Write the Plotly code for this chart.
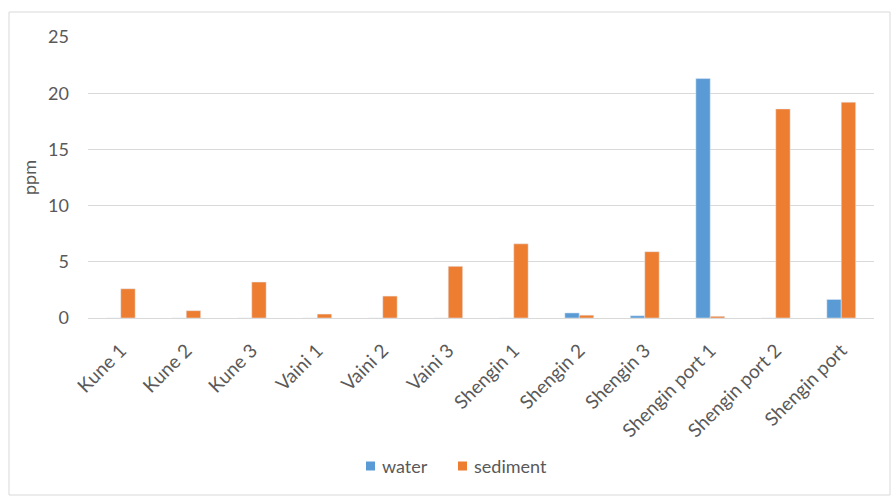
import plotly.graph_objects as go

# Sampling sites and measured concentrations (ppm)
sites = ["Kune 1", "Kune 2", "Kune 3", "Vaini 1", "Vaini 2", "Vaini 3",
         "Shengin 1", "Shengin 2", "Shengin 3", "Shengin port 1",
         "Shengin port 2", "Shengin port"]
water = [0, 0, 0, 0, 0, 0, 0, 0.45, 0.2, 21.3, 0, 1.65]
sediment = [2.6, 0.65, 3.2, 0.35, 1.95, 4.6, 6.6, 0.25, 5.9, 0.15, 18.6, 19.2]
y_ticks = [0, 5, 10, 15, 20, 25]

series = [("water", water, "#5B9BD5"), ("sediment", sediment, "#ED7D31")]

W, H = 894, 502
L, R, T, B = 88, 20, 37, 184
pw, ph = W - L - R, H - T - B

def px_x(p):
    return (p - L) / pw

def px_y(p):
    return (H - B - p) / ph

grey = "#595959"
family = "Lato, Open Sans, sans-serif"
font = dict(family=family, size=16, color=grey)

fig = go.Figure()
for name, vals, col in series:
    fig.add_trace(go.Bar(x=sites, y=vals, name=name, marker_color=col,
                         showlegend=False))

# Compact legend row beneath the axis labels
shapes = [dict(type="rect", xref="paper", yref="paper",
               x0=px_x(9), x1=px_x(890), y0=px_y(495), y1=px_y(12),
               line=dict(color="#D9D9D9", width=1), layer="below")]
annotations = []
legend_x = [366, 458]
legend_y = 466
for (name, vals, col), lx in zip(series, legend_x):
    shapes.append(dict(type="rect", xref="paper", yref="paper",
                       x0=px_x(lx), x1=px_x(lx + 9),
                       y0=px_y(legend_y + 4.5), y1=px_y(legend_y - 4.5),
                       fillcolor=col, line=dict(width=0)))
    annotations.append(dict(text=name, xref="paper", yref="paper",
                            x=px_x(lx + 14), y=px_y(legend_y),
                            xanchor="left", yanchor="middle", showarrow=False,
                            font=dict(family=family, size=18, color=grey)))

fig.update_layout(
    width=W, height=H,
    margin=dict(l=L, r=R, t=T, b=B),
    paper_bgcolor="white", plot_bgcolor="white",
    font=font,
    barmode="group", bargap=0.56, bargroupgap=0.0,
    shapes=shapes, annotations=annotations,
)
fig.update_xaxes(showgrid=False, showline=True, linecolor="#D9D9D9",
                 tickangle=-45, ticks="", ticklabelstandoff=13,
                 tickfont=dict(family=family, size=19, color=grey))
fig.update_yaxes(range=[0, 25], tickvals=y_ticks, showgrid=True,
                 gridcolor="#D9D9D9", zeroline=False, showline=False,
                 ticks="", ticklabelstandoff=18,
                 tickfont=dict(family=family, size=18, color=grey),
                 title=dict(text="ppm", font=dict(family=family, size=18, color=grey),
                            standoff=6))

fig.write_html("out.html")
